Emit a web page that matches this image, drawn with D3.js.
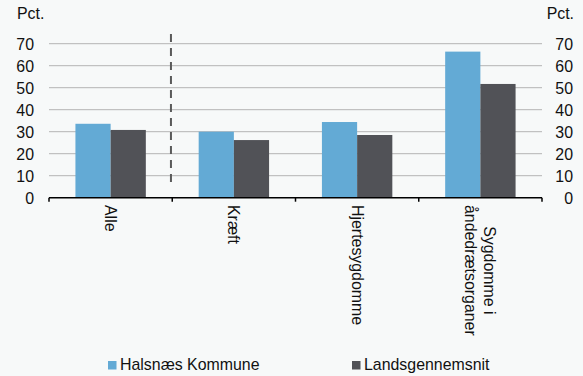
<!DOCTYPE html>
<html>
<head>
<meta charset="utf-8">
<script src="https://cdn.jsdelivr.net/npm/d3@7/dist/d3.min.js"></script>
<style>
  html, body { margin: 0; padding: 0; background: #f7f9f9; }
  svg { display: block; font-family: "Liberation Sans", Arial, sans-serif; }
</style>
</head>
<body>
<svg id="chart" width="583" height="376"></svg>
<script>
const categories = [["Alle"], ["Kræft"], ["Hjertesygdomme"], ["Sygdomme i", "åndedrætsorganer"]];
const seriesNames = ["Halsnæs Kommune", "Landsgennemsnit"];
const halsnaes = [33.6, 30.0, 34.4, 66.4];
const landsgennemsnit = [30.8, 26.2, 28.5, 51.7];
const yTicks = [0, 10, 20, 30, 40, 50, 60, 70];
const colors = ["#63aad5", "#515257"];

const svg = d3.select("#chart");
const W = 583, H = 376;
const pLeft = 49, pRight = 542, pTop = 43.7, pBottom = 197.7;
const fs = 15.9;
const txt = "#111";

svg.append("rect").attr("width", W).attr("height", H).attr("fill", "#f7f9f9");

const x = d3.scaleBand().domain(d3.range(categories.length)).range([pLeft, pRight]).padding(0);
const y = d3.scaleLinear().domain([0, 70]).range([pBottom, pTop]);

// gridlines
svg.append("g").selectAll("line").data(yTicks.filter(d => d > 0)).join("line")
  .attr("x1", pLeft).attr("x2", pRight)
  .attr("y1", d => y(d)).attr("y2", d => y(d))
  .attr("stroke", "#b4b4b4").attr("stroke-width", 1);

// left / right axis labels
function styleAxis(g) {
  g.select(".domain").remove();
  g.selectAll("text").attr("font-size", fs).attr("fill", txt)
    .attr("font-family", "Liberation Sans, Arial, sans-serif").attr("x", 0).attr("dy", "0.35em");
}
const gL = svg.append("g").attr("transform", "translate(34,0)")
  .call(d3.axisLeft(y).tickValues(yTicks).tickSize(0).tickPadding(0));
styleAxis(gL);
const gR = svg.append("g").attr("transform", "translate(573,0)")
  .call(d3.axisLeft(y).tickValues(yTicks).tickSize(0).tickPadding(0));
styleAxis(gR);

svg.append("text").attr("x", 17).attr("y", 19).attr("font-size", fs).attr("fill", txt).text("Pct.");
svg.append("text").attr("x", 574).attr("y", 19).attr("text-anchor", "end").attr("font-size", fs).attr("fill", txt).text("Pct.");

// bars
const data = categories.map((c, i) => [halsnaes[i], landsgennemsnit[i]]);
const bw = 35.2;
const groups = svg.append("g").selectAll("g").data(data).join("g")
  .attr("transform", (d, i) => `translate(${x(i) + x.bandwidth() / 2 - bw},0)`);
groups.selectAll("rect").data(d => d).join("rect")
  .attr("x", (d, j) => j * bw)
  .attr("width", bw)
  .attr("y", d => y(d))
  .attr("height", d => y(0) - y(d))
  .attr("fill", (d, j) => colors[j]);

// dashed separator
svg.append("line")
  .attr("x1", x(1) - 1.3).attr("x2", x(1) - 1.3)
  .attr("y1", 34).attr("y2", 182)
  .attr("stroke", "#5a5a5a").attr("stroke-width", 2)
  .attr("stroke-dasharray", "8,6");

// x axis
svg.append("line").attr("x1", pLeft).attr("x2", pRight).attr("y1", pBottom).attr("y2", pBottom)
  .attr("stroke", "#000").attr("stroke-width", 1.5);
const boundaries = d3.range(categories.length + 1).map(i => i < categories.length ? x(i) : pRight);
svg.append("g").selectAll("line").data(boundaries).join("line")
  .attr("x1", d => d).attr("x2", d => d)
  .attr("y1", pBottom).attr("y2", pBottom + 4)
  .attr("stroke", "#000").attr("stroke-width", 1.5);

// category labels
const lineH = 19;
categories.forEach((lines, i) => {
  const cx = x(i) + x.bandwidth() / 2;
  const g = svg.append("g").attr("transform", `translate(${cx},205) rotate(90)`);
  const n = lines.length;
  const texts = lines.map((t, k) => g.append("text")
    .attr("font-size", fs).attr("fill", txt)
    .attr("y", (k - (n - 1) / 2) * lineH)
    .attr("dy", "0.35em")
    .text(t));
  const lens = texts.map(t => t.node().getComputedTextLength());
  const maxL = d3.max(lens);
  texts.forEach((t, k) => t.attr("x", (maxL - lens[k]) / 2));
});

// legend
const legendX = [108, 352];
seriesNames.forEach((name, i) => {
  svg.append("rect").attr("x", legendX[i]).attr("y", 361).attr("width", 8.5).attr("height", 8.5).attr("fill", colors[i]);
  svg.append("text").attr("x", legendX[i] + 12).attr("y", 369.5).attr("font-size", fs).attr("fill", txt).text(name);
});
</script>
</body>
</html>
